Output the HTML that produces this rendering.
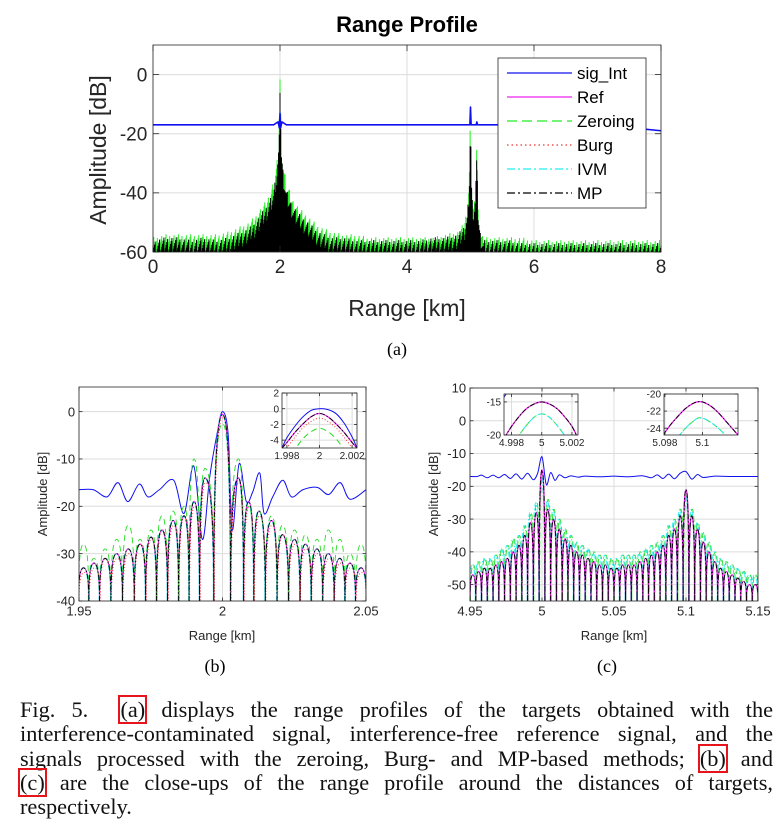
<!DOCTYPE html>
<html><head><meta charset="utf-8">
<style>
html,body{margin:0;padding:0;background:#fff;}
body{width:782px;height:838px;position:relative;overflow:hidden;}
svg{position:absolute;left:0;top:0;}
.cap{position:absolute;left:20px;width:753px;font-family:"Liberation Serif",serif;font-size:22.3px;line-height:24.3px;color:#111;}
.cap div{text-align:justify;text-align-last:justify;white-space:nowrap;height:24.3px;}
.cap div.last{text-align-last:left;}
.rb{outline:2px solid #e8141c;outline-offset:0px;}
</style></head>
<body>
<svg id="fig" width="782" height="838" xmlns="http://www.w3.org/2000/svg"></svg>
<div class="cap" style="top:698px">
<div>Fig. 5.&nbsp; <span class="rb">(a)</span> displays the range profiles of the targets obtained with the</div>
<div>interference-contaminated signal, interference-free reference signal, and the</div>
<div>signals processed with the zeroing, Burg- and MP-based methods; <span class="rb">(b)</span> and</div>
<div><span class="rb">(c)</span> are the close-ups of the range profile around the distances of targets,</div>
<div class="last">respectively.</div>
</div>
<script>
// ---------- DATA ----------
const mainX = [0,0.2,0.4,0.6,0.8,1.0,1.2,1.4,1.5,1.6,1.7,1.8,1.9,1.95,1.98,2.0,2.02,2.05,2.1,2.2,2.3,2.4,2.5,2.6,2.7,2.8,3.0,3.2,3.4,3.6,3.8,4.0,4.2,4.4,4.6,4.8,4.9,4.95,4.98,5.0,5.02,5.05,5.08,5.1,5.12,5.15,5.2,5.4,5.6,5.8,6.0,6.5,7.0,7.5,8.0];
const mainGreen = [-55,-54,-54,-54,-54,-54,-53,-51,-50,-48,-45,-42,-36,-30,-22,0,-22,-30,-36,-42,-45,-47,-49,-51,-52,-53,-54,-54,-55,-55,-55,-55,-55,-55,-54,-53,-50,-45,-35,-12,-40,-45,-40,-20,-45,-52,-55,-55,-55,-55,-56,-56,-56,-56,-56];
const mainBlack = [-56,-55,-55,-56,-55,-56,-55,-53,-52,-50,-47,-44,-39,-33,-25,-2,-25,-33,-39,-44,-47,-49,-51,-53,-54,-55,-55,-56,-56,-56,-56,-56,-56,-55,-55,-54,-51,-47,-37,-15,-41,-46,-41,-21,-46,-53,-56,-56,-56,-57,-57,-57,-57,-57,-57];
const mainBlueX = [0,1.9,1.97,1.99,2.0,2.01,2.03,2.1,4.95,4.99,5.0,5.01,5.05,5.09,5.1,5.11,5.2,7.0,7.3,8.0];
const mainBlueY = [-17,-17,-16,-18,-13,-18,-16,-17,-17,-17,-11,-17,-17,-17,-16,-17,-17,-17,-17.5,-19];
const legendLabels = ["sig_Int","Ref","Zeroing","Burg","IVM","MP"];
const mainXTicks = [0,2,4,6,8];
const mainYTicks = [0,-20,-40,-60];

const bLobeX = [1.9516,1.9552,1.9591,1.9631,1.9672,1.9713,1.9751,1.9789,1.9828,1.9866,1.9901,1.9939,2.0,2.0056,2.0091,2.0127,2.0171,2.0209,2.0251,2.0289,2.0329,2.0369,2.0409,2.0444,2.0483];
const bBlack = [-33,-32,-31,-30,-29,-28,-26.5,-25,-23,-22,-19,-14,-0.6,-14,-19,-21,-23,-26,-27,-28,-29,-30,-31,-32,-33];
const bGreen = [-28,-31,-29,-27,-24,-27,-25,-22,-21,-20,-10,-12,-2.5,-10,-20,-21,-22,-24,-25,-26,-27,-25,-27,-30,-28];
const bRed = [-34,-33,-31,-31,-30,-28,-27,-25,-24,-22,-20,-15,-1.2,-15,-20,-22,-24,-26,-28,-29,-30,-31,-32,-33,-34];
const bBlueX = [1.95,1.955,1.9598,1.9636,1.967,1.971,1.974,1.978,1.983,1.9866,1.990,1.993,1.9955,1.998,2.0,2.002,2.0034,2.0058,2.0083,2.0105,2.013,2.0145,2.0175,2.021,2.024,2.028,2.033,2.037,2.041,2.0444,2.05];
const bBlueY = [-16.5,-16.5,-18,-15,-19,-15.3,-18,-16.5,-14.5,-21.5,-11.5,-27,-14,-5,0,-5,-25,-11,-19,-17,-13,-21.5,-18,-14.5,-18,-16.5,-16,-17.5,-15,-18.5,-16.5];
const bXTicks = [1.95,2,2.05];
const bYTicks = [0,-10,-20,-30,-40];
const ibX = [1.9977,1.998,1.9985,1.999,1.9995,2.0,2.0005,2.001,2.0015,2.002,2.0023];
const ibBlue = [-5,-3.7,-2.2,-1.0,-0.2,0,-0.1,-0.6,-1.8,-3.6,-5];
const ibBlack = [-5,-4.3,-3.0,-1.9,-1.0,-0.6,-1.0,-1.9,-3.0,-4.3,-5];
const ibRed = [-6,-5,-3.6,-2.4,-1.6,-1.2,-1.6,-2.4,-3.6,-5,-6];
const ibGreen = [-8,-7,-5.2,-3.8,-2.9,-2.5,-2.9,-3.8,-5.2,-7,-8];

const cLobeX = [4.952,4.956,4.960,4.964,4.968,4.972,4.976,4.980,4.984,4.988,4.992,4.996,5.000,5.004,5.008,5.012,5.016,5.020,5.024,5.028,5.032,5.036,5.040,5.044,5.048,5.052,5.056,5.060,5.064,5.068,5.072,5.076,5.080,5.084,5.088,5.092,5.096,5.100,5.104,5.108,5.112,5.116,5.120,5.124,5.128,5.132,5.136,5.140,5.144,5.148];
const cBlack = [-47,-46,-45,-45,-44,-43,-42,-40,-38,-35,-31,-28,-15,-27,-30,-33,-36,-38,-40,-41,-42,-43,-44,-44,-45,-45,-44,-44,-44,-43,-42,-41,-40,-38,-35,-33,-29,-21,-29,-33,-37,-40,-43,-45,-46,-47,-48,-49,-50,-50];
const cGreen = [-44,-43,-42,-42,-41,-39,-38,-36,-35,-32,-28,-25,-17,-24,-27,-30,-33,-35,-37,-38,-39,-40,-41,-41,-42,-42,-41,-41,-41,-40,-39,-38,-37,-35,-32,-30,-27,-23,-27,-31,-34,-37,-40,-42,-43,-44,-45,-46,-47,-47];
const cBlueX = [4.95,4.955,4.958,4.962,4.966,4.970,4.974,4.978,4.982,4.986,4.990,4.994,4.997,5.0,5.003,5.006,5.009,5.012,5.016,5.020,5.025,5.030,5.040,5.050,5.060,5.070,5.076,5.080,5.084,5.088,5.092,5.096,5.100,5.104,5.108,5.112,5.12,5.13,5.15];
const cBlueY = [-17,-17,-16.6,-17.4,-16.6,-17.4,-16.4,-17.6,-16.2,-17.8,-16,-18,-16,-11,-19.5,-15.8,-18.2,-16.5,-17.4,-16.8,-17.2,-16.9,-17.1,-16.9,-17.1,-16.8,-17.4,-16.5,-17.6,-16.3,-17.7,-16,-15.5,-17.8,-16.4,-17.3,-16.9,-17,-17];
const cXTicks = [4.95,5,5.05,5.1,5.15];
const cYTicks = [10,0,-10,-20,-30,-40,-50];
const ic1X = [4.9975,4.9980,4.9985,4.9990,4.9995,5.0,5.0005,5.0010,5.0015,5.0020,5.0024];
const ic1Mag = [-20.5,-18.7,-17.2,-16.0,-15.3,-15.0,-15.3,-16.0,-17.2,-18.7,-20.5];
const ic1Green = [-23,-21.5,-20,-18.5,-17.3,-16.8,-17.3,-18.5,-20,-21.5,-23];
const ic1BlueX = [4.9974,4.9977];
const ic1BlueY = [-14.6,-13.6];
const ic2X = [5.0979,5.0983,5.0987,5.0991,5.0995,5.0998,5.1001,5.1005,5.1009,5.1013,5.1019];
const ic2Mag = [-24.8,-23.6,-22.6,-21.7,-21.1,-20.9,-21.0,-21.5,-22.3,-23.3,-24.8];
const ic2Green = [-26.5,-25.8,-25,-24,-23.2,-22.8,-22.9,-23.4,-24.1,-25,-26.5];

// ---------- DRAWING ----------
const NS = "http://www.w3.org/2000/svg";
const svg = document.getElementById('fig');
const FONT = '"Liberation Sans", "DejaVu Sans", sans-serif';
const NARROW = '"Liberation Sans Narrow", "Liberation Sans", sans-serif';
let clipId = 0;
function el(tag, attrs, parent) {
  const e = document.createElementNS(NS, tag);
  for (const k in attrs) e.setAttribute(k, attrs[k]);
  (parent || svg).appendChild(e);
  return e;
}
function txt(s, x, y, size, anchor, parent) {
  const t = el('text', {x: x, y: y, 'font-size': size, 'text-anchor': anchor || 'middle', 'font-family': NARROW, fill: '#262626'}, parent);
  t.textContent = s;
  return t;
}
function axes(name, x0, y0, x1, y1, xmin, xmax, ymin, ymax, xt, yt, fs) {
  const g = el('g', {});
  
  
  const sx = v => x0 + (v - xmin) / (xmax - xmin) * (x1 - x0);
  const sy = v => y1 - (v - ymin) / (ymax - ymin) * (y1 - y0);
  el('rect', {x: x0, y: y0, width: x1 - x0, height: y1 - y0, fill: '#fff'}, g);
  xt.forEach(v => el('line', {x1: sx(v), x2: sx(v), y1: y0, y2: y1, stroke: '#dcdcdc', 'stroke-width': 1}, g));
  yt.forEach(v => el('line', {x1: x0, x2: x1, y1: sy(v), y2: sy(v), stroke: '#dcdcdc', 'stroke-width': 1}, g));
  const id = 'clip' + (clipId++);
  const cp = el('clipPath', {id: id}, g);
  el('rect', {x: x0, y: y0, width: x1 - x0, height: y1 - y0}, cp);
  const plot = el('g', {'clip-path': 'url(#' + id + ')'}, g);
  const over = el('g', {}, svg);
  el('rect', {x: x0, y: y0, width: x1 - x0, height: y1 - y0, fill: 'none', stroke: '#262626', 'stroke-width': 0.8}, over);
  const tl = Math.max(3, (x1 - x0) * 0.012);
  xt.forEach(v => {
    el('line', {x1: sx(v), x2: sx(v), y1: y1, y2: y1 - tl, stroke: '#262626', 'stroke-width': 0.8}, over);
    el('line', {x1: sx(v), x2: sx(v), y1: y0, y2: y0 + tl, stroke: '#262626', 'stroke-width': 0.8}, over);
    const lab = txt(String(v), sx(v), y1 + fs * 1.1, fs, 'middle', over);
    
    
  });
  yt.forEach(v => {
    el('line', {x1: x0, x2: x0 + tl, y1: sy(v), y2: sy(v), stroke: '#262626', 'stroke-width': 0.8}, over);
    el('line', {x1: x1, x2: x1 - tl, y1: sy(v), y2: sy(v), stroke: '#262626', 'stroke-width': 0.8}, over);
    const lab = txt(String(v), x0 - fs * 0.3, sy(v) + fs * 0.36, fs, 'end', over);
    
    
  });
  return {sx, sy, plot, over, g};
}
function line(ax, xs, ys, color, w, dash, name) {
  const d = xs.map((x, i) => (i ? 'L' : 'M') + ax.sx(x).toFixed(2) + ',' + ax.sy(ys[i]).toFixed(2)).join('');
  const p = el('path', {d: d, fill: 'none', stroke: color, 'stroke-width': w, 'stroke-linejoin': 'round'}, ax.plot);
  if (dash) p.setAttribute('stroke-dasharray', dash);
  
  
  return p;
}
function smooth(ax, xs, ys, color, w, dash, name) {
  const P = xs.map((x, i) => [ax.sx(x), ax.sy(ys[i])]);
  let d = 'M' + P[0][0] + ',' + P[0][1];
  for (let i = 0; i < P.length - 1; i++) {
    const p0 = P[Math.max(0, i - 1)], p1 = P[i], p2 = P[i + 1], p3 = P[Math.min(P.length - 1, i + 2)];
    d += 'C' + (p1[0] + (p2[0] - p0[0]) / 6) + ',' + (p1[1] + (p2[1] - p0[1]) / 6) + ' ' + (p2[0] - (p3[0] - p1[0]) / 6) + ',' + (p2[1] - (p3[1] - p1[1]) / 6) + ' ' + p2[0] + ',' + p2[1];
  }
  const p = el('path', {d: d, fill: 'none', stroke: color, 'stroke-width': w}, ax.plot);
  if (dash) p.setAttribute('stroke-dasharray', dash);
  
  
  return p;
}
function lobes(ax, xs, ys, floor, color, w, dash, name, shift) {
  shift = shift || 0;
  let d = '';
  const fy = ax.sy(floor);
  for (let i = 0; i < xs.length; i++) {
    const px = ax.sx(xs[i]) + shift, py = ax.sy(ys[i]);
    const prev = i ? ax.sx(xs[i - 1]) + shift : px - (ax.sx(xs[1]) - ax.sx(xs[0]));
    const next = i < xs.length - 1 ? ax.sx(xs[i + 1]) + shift : px + (ax.sx(xs[1]) - ax.sx(xs[0]));
    const nl = (prev + px) / 2, nr = (px + next) / 2;
    d += 'M' + nl.toFixed(2) + ',' + fy + 'Q' + nl.toFixed(2) + ',' + py.toFixed(2) + ' ' + px.toFixed(2) + ',' + py.toFixed(2) + 'Q' + nr.toFixed(2) + ',' + py.toFixed(2) + ' ' + nr.toFixed(2) + ',' + fy;
  }
  const p = el('path', {d: d, fill: 'none', stroke: color, 'stroke-width': w}, ax.plot);
  if (dash) p.setAttribute('stroke-dasharray', dash);
  
  
  return p;
}
function interp(xs, ys, x) {
  for (let i = 0; i < xs.length - 1; i++) {
    if (x >= xs[i] && x <= xs[i + 1]) return ys[i] + (ys[i + 1] - ys[i]) * (x - xs[i]) / (xs[i + 1] - xs[i]);
  }
  return ys[ys.length - 1];
}
function hair(ax, xs, ys, floor, color, w, name, phase) {
  let d = '';
  const N = 700;
  const x0 = xs[0], x1 = xs[xs.length - 1];
  for (let k = 0; k <= N; k++) {
    const x = x0 + (x1 - x0) * k / N;
    const env = interp(xs, ys, x);
    const jit = ((k * 7919 + phase) % 17) / 17 * 5.5;
    const top = env - jit;
    const px = ax.sx(x).toFixed(2);
    d += 'M' + px + ',' + ax.sy(floor) + 'L' + px + ',' + ax.sy(top).toFixed(2);
  }
  const p = el('path', {d: d, fill: 'none', stroke: color, 'stroke-width': w}, ax.plot);
  
  
}

// ---- Plot (a) ----
const A = axes('range-profile-plot', 153, 45, 661, 252, 0, 8, -60, 10, mainXTicks, mainYTicks, 19);
hair(A, mainX, mainGreen, -60, '#22ee22', 1, 'zeroing-noise', 3);
hair(A, mainX, mainBlack, -60, '#000', 1, 'mp-noise', 11);
line(A, mainBlueX, mainBlueY, '#1010ee', 1.6, null, 'sig-int-line');
const at = el('text', {x: 407, y: 32, 'font-size': 22, 'font-weight': 'bold', 'text-anchor': 'middle', 'font-family': FONT, fill: '#000'});
at.textContent = 'Range Profile';


const ayl = el('text', {x: 0, y: 0, 'font-size': 23, 'text-anchor': 'middle', 'font-family': FONT, fill: '#262626', transform: 'translate(106,150) rotate(-90)'});
ayl.textContent = 'Amplitude [dB]';


const axl = el('text', {x: 407, y: 316, 'font-size': 23, 'text-anchor': 'middle', 'font-family': FONT, fill: '#262626'});
axl.textContent = 'Range [km]';


const leg = el('g', {});


el('rect', {x: 498, y: 58, width: 148, height: 150, fill: '#fff', stroke: '#262626', 'stroke-width': 0.8}, leg);
const legColors = ['#1010ee', '#ee22ee', '#22ee22', '#ee3333', '#22eeee', '#000'];
const legDash = [null, null, '10,5', '1.5,3', '8,3,2,3', '8,3,2,3'];
legendLabels.forEach((s, i) => {
  const yy = 73 + i * 24;
  const ln = el('line', {x1: 507, x2: 572, y1: yy, y2: yy, stroke: legColors[i], 'stroke-width': 1.3}, leg);
  if (legDash[i]) ln.setAttribute('stroke-dasharray', legDash[i]);
  
  
  const t = el('text', {x: 577, y: yy + 6, 'font-size': 17, 'font-family': NARROW, fill: '#000'}, leg);
  t.textContent = s;
  
  
});
const ca = el('text', {x: 397, y: 355, 'font-size': 18, 'text-anchor': 'middle', 'font-family': '"Liberation Serif", serif', fill: '#000'});
ca.textContent = '(a)';



// ---- Plot (b) ----
const B = axes('closeup-b-plot', 79, 387, 366, 601, 1.95, 2.05, -40, 5.2, bXTicks, bYTicks, 13);
smooth(B, bBlueX, bBlueY, '#1010ee', 1, null, 'b-sig-int');
lobes(B, bLobeX, bBlack, -40, '#ee22ee', 1.3, null, 'b-ref');
lobes(B, bLobeX, bGreen, -40, '#22dd22', 0.9, '6,4', 'b-zeroing');
lobes(B, bLobeX, bRed, -40, '#ee3333', 0.9, '1,2', 'b-burg', 0.6);
lobes(B, bLobeX, bBlack, -40, '#22eeee', 1, '5,2,1.5,2', 'b-ivm', -0.4);
lobes(B, bLobeX, bBlack, -40, '#000', 0.9, '5,2,1.5,2', 'b-mp');
const byl = el('text', {x: 0, y: 0, 'font-size': 13, 'text-anchor': 'middle', 'font-family': FONT, fill: '#262626', transform: 'translate(47,494) rotate(-90)'});
byl.textContent = 'Amplitude [dB]';


const bxl = el('text', {x: 222, y: 640, 'font-size': 13, 'text-anchor': 'middle', 'font-family': NARROW, fill: '#262626'});
bxl.textContent = 'Range [km]';


const cb = el('text', {x: 215, y: 672, 'font-size': 18, 'text-anchor': 'middle', 'font-family': '"Liberation Serif", serif', fill: '#000'});
cb.textContent = '(b)';


const IB = axes('inset-b', 282, 393, 357, 448, 1.9977, 2.0023, -5, 2, [1.998, 2, 2.002], [2, 0, -2, -4], 10);
smooth(IB, ibX, ibBlue, '#1010ee', 1, null, 'ib-sig-int');
smooth(IB, ibX, ibBlack, '#ee22ee', 1.2, null, 'ib-ref');
smooth(IB, ibX, ibRed, '#ee3333', 1, '1,2', 'ib-burg');
smooth(IB, ibX, ibGreen, '#22dd22', 1, '6,4', 'ib-zeroing');
smooth(IB, ibX, ibBlack, '#000', 0.9, '5,2,1.5,2', 'ib-mp');

// ---- Plot (c) ----
const C = axes('closeup-c-plot', 470, 388, 758, 601, 4.95, 5.15, -55, 10, cXTicks, cYTicks, 13);
smooth(C, cBlueX, cBlueY, '#1010ee', 1, null, 'c-sig-int');
lobes(C, cLobeX, cGreen, -55, '#22dd22', 0.9, '6,3', 'c-zeroing', 0.5);
lobes(C, cLobeX, cGreen, -55, '#22eeee', 0.9, '5,2,1.5,2', 'c-ivm', -0.5);
lobes(C, cLobeX, cBlack, -55, '#ee22ee', 1.3, null, 'c-ref');
lobes(C, cLobeX, cBlack, -55, '#000', 0.9, '5,2,1.5,2', 'c-mp');
const cyl = el('text', {x: 0, y: 0, 'font-size': 13, 'text-anchor': 'middle', 'font-family': FONT, fill: '#262626', transform: 'translate(438,494) rotate(-90)'});
cyl.textContent = 'Amplitude [dB]';


const cxl = el('text', {x: 614, y: 640, 'font-size': 13, 'text-anchor': 'middle', 'font-family': NARROW, fill: '#262626'});
cxl.textContent = 'Range [km]';


const cc = el('text', {x: 607, y: 672, 'font-size': 18, 'text-anchor': 'middle', 'font-family': '"Liberation Serif", serif', fill: '#000'});
cc.textContent = '(c)';


const IC1 = axes('inset-c1', 504, 394, 578, 435, 4.9975, 5.0024, -20, -13.8, [4.998, 5, 5.002], [-15, -20], 10);
line(IC1, ic1BlueX, ic1BlueY, '#1010ee', 1, null, 'ic1-sig-int');
smooth(IC1, ic1X, ic1Green, '#22dd22', 1, '6,3', 'ic1-zeroing');
smooth(IC1, ic1X, ic1Green, '#22eeee', 1, '5,2,1.5,2', 'ic1-ivm');
smooth(IC1, ic1X, ic1Mag, '#ee22ee', 1.3, null, 'ic1-ref');
smooth(IC1, ic1X, ic1Mag, '#000', 0.9, '5,2,1.5,2', 'ic1-mp');
const IC2 = axes('inset-c2', 664, 394, 738, 435, 5.09795, 5.1019, -24.8, -20, [5.098, 5.1], [-20, -22, -24], 10);
smooth(IC2, ic2X, ic2Green, '#22dd22', 1, '6,3', 'ic2-zeroing');
smooth(IC2, ic2X, ic2Green, '#22eeee', 1, '5,2,1.5,2', 'ic2-ivm');
smooth(IC2, ic2X, ic2Mag, '#ee22ee', 1.3, null, 'ic2-ref');
smooth(IC2, ic2X, ic2Mag, '#000', 0.9, '5,2,1.5,2', 'ic2-mp');
</script>
</body></html>
